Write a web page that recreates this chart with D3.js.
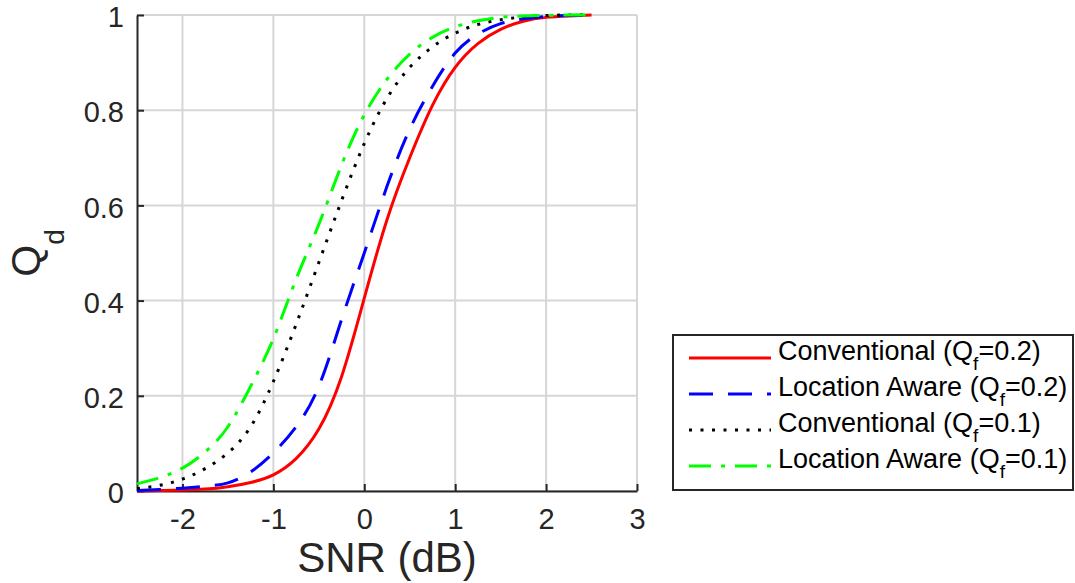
<!DOCTYPE html>
<html>
<head>
<meta charset="utf-8">
<script src="https://cdn.jsdelivr.net/npm/d3@7"></script>
<style>
  body { margin: 0; background: #fff; }
  svg { display: block; font-family: 'Liberation Sans', Arial, Helvetica, sans-serif; }
</style>
</head>
<body>
<div id="chart"></div>
<script>
// SNR grid (dB) and detection probability
const snr = [-2.5, -2.25, -2, -1.75, -1.5, -1.25, -1, -0.75, -0.5, -0.25, 0,
  0.25, 0.5, 0.75, 1, 1.25, 1.5, 1.75, 2, 2.25, 2.5];
const convQf02 = [0, 0.001, 0.002, 0.004, 0.009, 0.018, 0.034, 0.068, 0.13, 0.24, 0.405,
  0.57, 0.70, 0.81, 0.89, 0.94, 0.97, 0.987, 0.995, 0.998, 1];
const awareQf02 = [0.001, 0.003, 0.006, 0.01, 0.017, 0.04, 0.08, 0.135, 0.22, 0.36, 0.50,
  0.64, 0.76, 0.85, 0.92, 0.96, 0.982, 0.992, 0.997, 0.999, 1];
const convQf01 = [0.005, 0.012, 0.025, 0.047, 0.08, 0.135, 0.23, 0.35, 0.48, 0.61, 0.73,
  0.825, 0.89, 0.933, 0.962, 0.98, 0.99, 0.996, 0.999, 1, 1];
const awareQf01 = [0.015, 0.028, 0.048, 0.082, 0.135, 0.22, 0.32, 0.445, 0.56, 0.685, 0.79,
  0.865, 0.918, 0.953, 0.975, 0.988, 0.995, 0.998, 0.999, 1, 1];

const xTicks = [-2, -1, 0, 1, 2, 3];
const yTicks = [0, 0.2, 0.4, 0.6, 0.8, 1];
const legendNames = ['Conventional', 'Location Aware', 'Conventional', 'Location Aware'];
const legendQf = ['0.2', '0.2', '0.1', '0.1'];

const width = 1075;
const height = 583;
const plot = { left: 137, right: 637, top: 15, bottom: 491 };

const series = [
  { values: convQf02, color: '#ff0000', dash: null },
  { values: awareQf02, color: '#0000ff', dash: '24,15' },
  { values: convQf01, color: '#000000', dash: '3,8.5' },
  { values: awareQf01, color: '#00ff00', dash: '22,10,4,10' },
];

const x = d3.scaleLinear().domain([-2.5, 3]).range([plot.left, plot.right]);
const y = d3.scaleLinear().domain([0, 1]).range([plot.bottom, plot.top]);

const svg = d3.select('#chart')
  .append('svg')
  .attr('width', width)
  .attr('height', height);

// grid lines
const grid = svg.append('g')
  .attr('stroke', '#d6d6d6')
  .attr('stroke-width', 2);

grid.selectAll('.vgrid')
  .data(xTicks)
  .join('line')
  .attr('x1', (d) => x(d)).attr('x2', (d) => x(d))
  .attr('y1', plot.top).attr('y2', plot.bottom);

grid.selectAll('.hgrid')
  .data(yTicks)
  .join('line')
  .attr('class', 'hgrid')
  .attr('x1', plot.left).attr('x2', plot.right)
  .attr('y1', (d) => y(d)).attr('y2', (d) => y(d));

// axes, ticks pointing inward like matlab
const xAxis = svg.append('g')
  .attr('transform', `translate(0,${plot.bottom})`)
  .call(d3.axisBottom(x).tickValues(xTicks).tickSize(-7).tickSizeOuter(0)
    .tickPadding(17).tickFormat((d) => String(d)));

const yAxis = svg.append('g')
  .attr('transform', `translate(${plot.left},0)`)
  .call(d3.axisLeft(y).tickValues(yTicks).tickSize(-7).tickSizeOuter(0)
    .tickPadding(13).tickFormat((d) => String(d)));

[xAxis, yAxis].forEach((ax) => {
  ax.select('.domain').attr('stroke', '#262626').attr('stroke-width', 2);
  ax.selectAll('.tick line').attr('stroke', '#262626').attr('stroke-width', 2);
  ax.selectAll('.tick text')
    .attr('fill', '#262626')
    .style('font-size', '29px')
    .style('font-family', "'Liberation Sans', Arial, sans-serif");
});
yAxis.selectAll('.tick text').attr('dy', '0.4em');

// curves
const line = d3.line()
  .x((d, i) => x(snr[i]))
  .y((d) => y(d))
  .curve(d3.curveNatural);

svg.append('g')
  .attr('fill', 'none')
  .selectAll('path')
  .data(series)
  .join('path')
  .attr('d', (d) => line(d.values))
  .attr('stroke', (d) => d.color)
  .attr('stroke-width', 3)
  .attr('stroke-dasharray', (d) => d.dash);

// axis titles
svg.append('text')
  .attr('x', (plot.left + plot.right) / 2)
  .attr('y', 572)
  .attr('text-anchor', 'middle')
  .attr('fill', '#262626')
  .style('font-size', '42px')
  .text('SNR (dB)');

const yLabel = svg.append('text')
  .attr('transform', `translate(40,${(plot.top + plot.bottom) / 2}) rotate(-90)`)
  .attr('text-anchor', 'middle')
  .attr('fill', '#262626')
  .style('font-size', '41px');
yLabel.append('tspan').text('Q');
yLabel.append('tspan').attr('dy', 24).style('font-size', '28px').text('d');

// legend
const legend = svg.append('g');
legend.append('rect')
  .attr('x', 673).attr('y', 335)
  .attr('width', 400).attr('height', 155)
  .attr('fill', '#fff')
  .attr('stroke', '#262626')
  .attr('stroke-width', 2);

const rows = legend.selectAll('.row')
  .data(series)
  .join('g')
  .attr('transform', (d, i) => `translate(0,${360 + i * 36})`);

rows.append('line')
  .attr('x1', 689).attr('x2', 771)
  .attr('y1', -2).attr('y2', -2)
  .attr('stroke', (d) => d.color)
  .attr('stroke-width', 3)
  .attr('stroke-dasharray', (d) => d.dash);

const label = rows.append('text')
  .attr('x', 778)
  .attr('fill', '#000')
  .style('font-size', '27px');
label.append('tspan').text((d, i) => `${legendNames[i]} (Q`);
label.append('tspan').attr('dy', 10).style('font-size', '19px').text('f');
label.append('tspan').attr('dy', -10).text((d, i) => `=${legendQf[i]})`);
</script>
</body>
</html>
